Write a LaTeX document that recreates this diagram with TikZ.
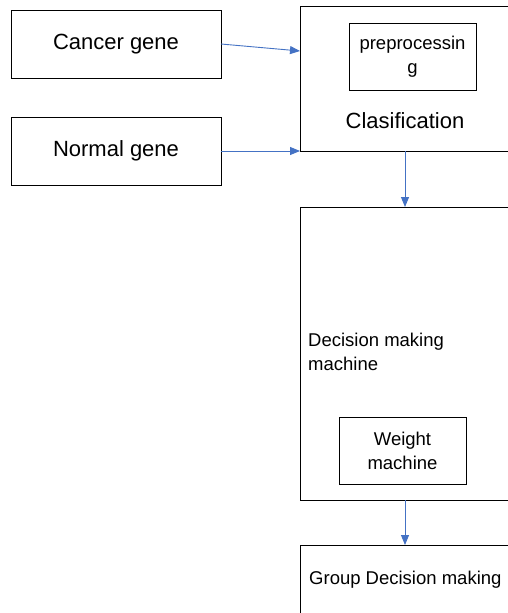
\documentclass[tikz,border=0pt]{standalone}
\usepackage{fontspec}
\setmainfont{Liberation Sans}
\usetikzlibrary{arrows.meta}
\definecolor{arrowblue}{HTML}{4472C4}
\begin{document}
\begin{tikzpicture}[x=1pt,y=-1pt,
  box/.style={draw=black, line width=1pt, inner sep=0pt, outer sep=0pt, anchor=north west},
  big/.style={font=\fontsize{22}{26}\selectfont},
  small/.style={font=\fontsize{18.5}{24}\selectfont},
  conn/.style={draw=arrowblue, line width=0.9pt, -{Triangle[length=10pt,width=8pt]}}]
\useasboundingbox (0,0) rectangle (508,613);
\clip (0,0) rectangle (508,613);
\fill[white] (0,0) rectangle (508,613);
% left input boxes
\node[box, big, minimum width=210pt, minimum height=68pt] (cancer) at (11,10) {Cancer gene};
\node[box, big, minimum width=210pt, minimum height=68pt] (normal) at (11,117) {Normal gene};
% classification box
\node[box, minimum width=210pt, minimum height=145pt] (cls) at (300,6) {};
\node[draw=black, line width=1pt, small, align=center, minimum width=127pt, minimum height=67pt, inner sep=0pt] (pre) at (412.5,56.5) {preprocessin\\g};
\node[big] (clstext) at (405,121) {Clasification};
% decision box
\node[box, minimum width=210pt, minimum height=293pt] (dec) at (300,207) {};
\node[small, align=left, anchor=west, inner sep=0pt] (dectext) at (308,352) {Decision making\\machine};
\node[draw=black, line width=1pt, small, align=center, minimum width=127pt, minimum height=67pt, inner sep=0pt] (weight) at (402.5,450.5) {Weight\\machine};
% group decision box
\node[box, minimum width=210pt, minimum height=80pt] (grp) at (300,545) {};
\node[small, anchor=west, inner sep=0pt] (grptext) at (309,580) {Group Decision making};
% connectors
\coordinate (cin) at (300,51);
\draw[conn] (cancer.east) -- (cin);
\draw[conn] (normal.east) -- (cls.west |- normal.east);
\draw[conn] (cls.south) -- (dec.north);
\draw[conn] (dec.south) -- (grp.north);
\end{tikzpicture}
\end{document}
